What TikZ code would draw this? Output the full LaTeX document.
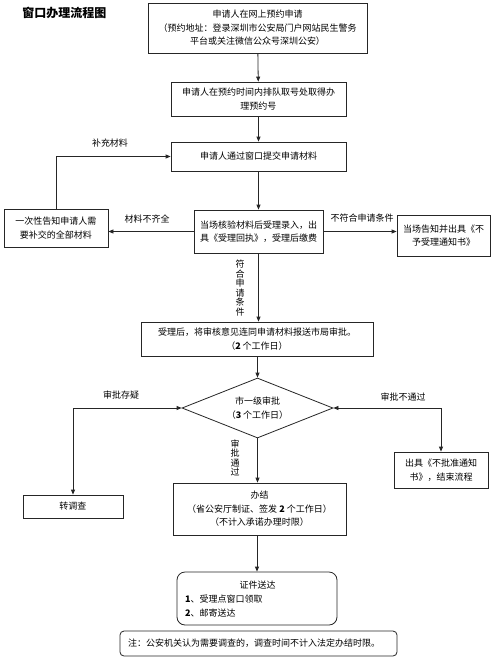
\documentclass[tikz,border=0pt]{standalone}
\usepackage{fontspec}
\newfontfamily\cjk{Noto Sans CJK SC}
\usetikzlibrary{shapes.geometric,arrows.meta}
\begin{document}
\begin{tikzpicture}[x=1pt,y=-1pt,
  txt/.style={font=\cjk\fontsize{9}{13.5}\selectfont},
  box/.style={txt,draw=black!85, line width=0.8pt, rectangle, inner sep=0pt, align=center},
  lbl/.style={txt,inner sep=0pt},
  vlbl/.style={inner sep=0pt, align=center, font=\cjk\fontsize{9}{9.6}\selectfont},
  arr/.style={draw=black!85, line width=0.8pt, -{Triangle[length=5pt,width=4pt]}},
  darr/.style={draw=black!85, line width=0.8pt, {Triangle[length=5pt,width=4pt]}-{Triangle[length=5pt,width=4pt]}},
]
\useasboundingbox (0,0) rectangle (500,657);
\fill[white] (0,0) rectangle (500,657);

\node[inner sep=0pt, font=\cjk\bfseries\fontsize{12}{14}\selectfont] (title) at (64.5,13) {窗口办理流程图};

\node[box, minimum width=219pt, minimum height=50pt] (b1) at (257.5,28)
  {申请人在网上预约申请\\（预约地址：登录深圳市公安局门户网站民生警务\\平台或关注微信公众号深圳公安）};
\node[box, minimum width=175pt, minimum height=34pt] (b2) at (258.5,99)
  {申请人在预约时间内排队取号处取得办\\理预约号};
\node[box, minimum width=175pt, minimum height=29pt] (b3) at (258.5,156.5)
  {申请人通过窗口提交申请材料};
\node[box, minimum width=104pt, minimum height=38pt] (lb) at (56,228)
  {一次性告知申请人需\\要补交的全部材料};
\node[box, minimum width=129pt, minimum height=43pt] (ck) at (258.5,231.5)
  {当场核验材料后受理录入，出\\具《受理回执》，受理后缴费};
\node[box, minimum width=93pt, minimum height=41pt] (rb) at (443.5,235.5)
  {当场告知并出具《不\\予受理通知书》};
\node[box, minimum width=232pt, minimum height=34pt] (b4) at (257,339)
  {受理后，将审核意见连同申请材料报送市局审批。\\（\textbf{2} 个工作日）};
\node[box, diamond, shape aspect=2.5, minimum width=151pt, minimum height=60pt] (d) at (257.5,408)
  {市一级审批\\（\textbf{3} 个工作日）};
\node[box, minimum width=100pt, minimum height=23pt] (td) at (73,506.5) {转调查};
\node[box, minimum width=94pt, minimum height=36pt] (nb) at (441,470)
  {出具《不批准通知\\书》，结束流程};
\node[box, minimum width=173pt, minimum height=52pt] (bj) at (259.5,509)
  {办结\\（省公安厅制证、签发 \textbf{2} 个工作日）\\（不计入承诺办理时限）};
\node[box, rounded corners=8pt, minimum width=160pt, minimum height=53pt] (zj) at (257,598.5) {};
\node[lbl] (zjt) at (257.5,585) {证件送达};
\node[lbl, anchor=west] (zj1) at (185,599) {\textbf{1}、受理点窗口领取};
\node[lbl, anchor=west] (zj2) at (185,613) {\textbf{2}、邮寄送达};
\node[box, rounded corners=4pt, minimum width=277pt, minimum height=25pt] (note) at (258.5,643.5) {};
\node[lbl, anchor=west] (notet) at (128,643.5) {注：公安机关认为需要调查的，调查时间不计入法定办结时限。};

% labels
\node[lbl] (l1) at (110,143) {补充材料};
\node[lbl] (l2) at (147,219) {材料不齐全};
\node[lbl] (l3) at (362,218) {不符合申请条件};
\node[vlbl] (l4) at (240,288) {符\\合\\申\\请\\条\\件};
\node[lbl] (l5) at (121,395) {审批存疑};
\node[lbl] (l6) at (403,397) {审批不通过};
\node[vlbl] (l7) at (235,458) {审\\批\\通\\过};

% connectors
\draw[arr] (b1) -- (b2);
\draw[arr] (b2) -- (b3);
\draw[arr] (b3) -- (ck);
\draw[arr] (ck.west) -- (ck.west -| lb.east);
\draw[arr] (lb.north) |- (b3.west);
\draw[arr] (ck.east) -- (ck.east -| rb.west);
\draw[arr] (ck.south) -- (ck.south |- b4.north);
\draw[arr] (b4.south -| d.north) -- (d.north);
\draw[arr] (d.south) -- (d.south |- bj.north);
\draw[darr] (d.west) -| (td.north);
\draw[darr] (d.east) -| (nb.north);
\draw[arr] (bj.south -| zj.north) -- (zj.north);
\end{tikzpicture}
\end{document}
